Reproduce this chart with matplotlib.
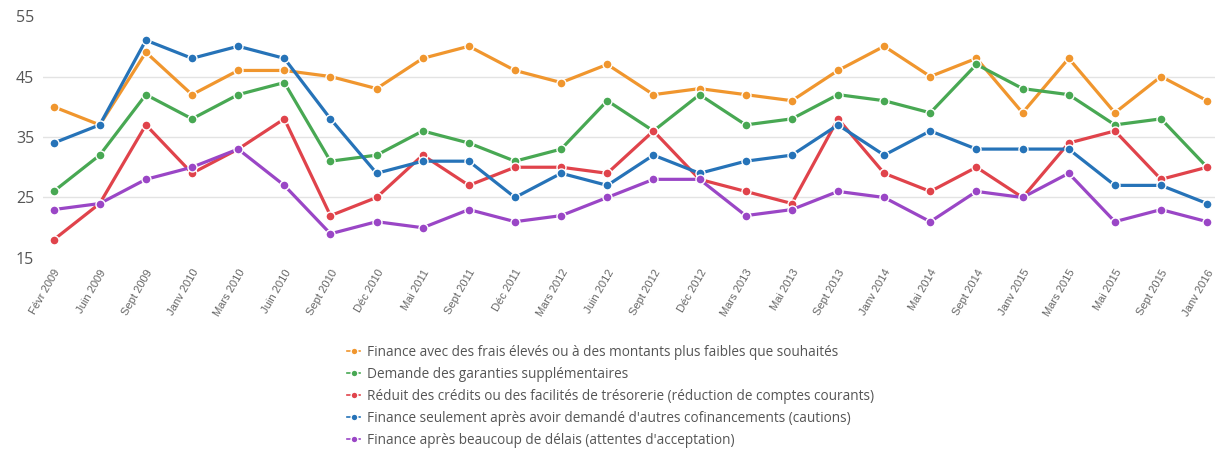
import matplotlib
matplotlib.use("Agg")
import matplotlib.pyplot as plt

periods = ["Févr 2009", "Juin 2009", "Sept 2009", "Janv 2010", "Mars 2010",
           "Juin 2010", "Sept 2010", "Déc 2010", "Mai 2011", "Sept 2011",
           "Déc 2011", "Mars 2012", "Juin 2012", "Sept 2012", "Déc 2012",
           "Mars 2013", "Mai 2013", "Sept 2013", "Janv 2014", "Mai 2014",
           "Sept 2014", "Janv 2015", "Mars 2015", "Mai 2015", "Sept 2015",
           "Janv 2016"]

frais_eleves = [40, 37, 49, 42, 46, 46, 45, 43, 48, 50, 46, 44, 47, 42, 43,
                42, 41, 46, 50, 45, 48, 39, 48, 39, 45, 41]
garanties = [26, 32, 42, 38, 42, 44, 31, 32, 36, 34, 31, 33, 41, 36, 42,
             37, 38, 42, 41, 39, 47, 43, 42, 37, 38, 30]
reduit_credits = [18, 24, 37, 29, 33, 38, 22, 25, 32, 27, 30, 30, 29, 36, 28,
                  26, 24, 38, 29, 26, 30, 25, 34, 36, 28, 30]
cofinancements = [34, 37, 51, 48, 50, 48, 38, 29, 31, 31, 25, 29, 27, 32, 29,
                  31, 32, 37, 32, 36, 33, 33, 33, 27, 27, 24]
delais = [23, 24, 28, 30, 33, 27, 19, 21, 20, 23, 21, 22, 25, 28, 28,
          22, 23, 26, 25, 21, 26, 25, 29, 21, 23, 21]

series = [
    ("Finance avec des frais élevés ou à des montants plus faibles que souhaités",
     frais_eleves, "#F0962E"),
    ("Demande des garanties supplémentaires", garanties, "#48A853"),
    ("Réduit des crédits ou des facilités de trésorerie (réduction de comptes courants)",
     reduit_credits, "#E0434B"),
    ("Finance seulement après avoir demandé d'autres cofinancements (cautions)",
     cofinancements, "#2673B8"),
    ("Finance après beaucoup de délais (attentes d'acceptation)",
     delais, "#9A46C6"),
]

fig = plt.figure(figsize=(12.15, 4.51), dpi=100)
ax = fig.add_axes([0.035, 0.428, 0.965, 0.5365])

x = list(range(len(periods)))
handles = []
for label, vals, color in series:
    h, = ax.plot(x, vals, color=color, lw=2.3, marker="o", ms=6.5,
                 markeredgecolor="white", markeredgewidth=1.0, label=label,
                 zorder=3)
    handles.append(h)

ax.set_ylim(15, 55)
ax.set_yticks([15, 25, 35, 45, 55])
ax.set_xlim(-0.24, len(periods) - 1 + 0.17)
ax.set_xticks(x)
ax.set_xticklabels(periods, rotation=60, ha="right", rotation_mode="anchor",
                   fontsize=8, color="#666666", family="Liberation Sans")
ax.tick_params(axis="y", labelsize=11.5, colors="#555555", length=0, pad=6)
ax.tick_params(axis="x", length=0, pad=7)
for t in ax.get_yticklabels():
    t.set_family("Open Sans")
for yv in [25, 35, 45]:
    ax.axhline(yv, color="#e3e3e3", lw=1, zorder=1)
for s in ax.spines.values():
    s.set_visible(False)

leg = fig.legend(handles=handles, loc="upper left",
                 bbox_to_anchor=(0.286, 0.236), frameon=False,
                 borderaxespad=0, borderpad=0,
                 prop={"family": "Open Sans", "size": 9.8},
                 labelcolor="#555555", handlelength=0.9, handletextpad=0.55,
                 labelspacing=0.52, markerscale=0.75)
for line in leg.get_lines():
    line.set_linewidth(1.2)

fig.savefig("out.png", dpi=100)
